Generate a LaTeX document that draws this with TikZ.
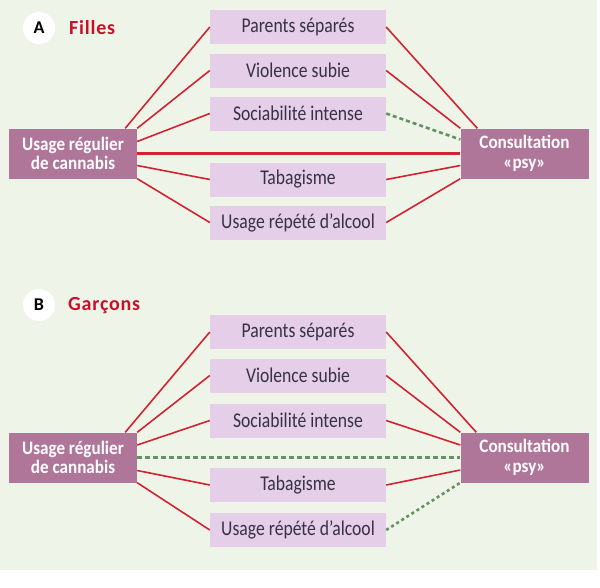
\documentclass[tikz,border=0pt]{standalone}
\usepackage{fontspec}
\setmainfont{Carlito}
\newfontfamily\boxfont{Carlito}[FakeStretch=0.84]
\newfontfamily\boldboxfont{Carlito}[FakeStretch=0.9]
\newfontfamily\titlefont{Carlito}[LetterSpace=4]
\usetikzlibrary{calc}
\definecolor{bg}{RGB}{238,245,232}
\definecolor{mauve}{RGB}{176,118,154}
\definecolor{lav}{RGB}{228,206,232}
\definecolor{redl}{RGB}{210,35,50}
\definecolor{greenl}{RGB}{100,145,100}
\definecolor{titlered}{RGB}{200,16,40}
\definecolor{txt}{RGB}{55,50,65}
\begin{document}
\begin{tikzpicture}[x=1pt,y=-1pt,
  midbox/.style={fill=lav, draw=none, minimum width=176pt, minimum height=34pt, inner sep=0pt, text=txt, font=\boxfont\fontsize{21}{21}\selectfont},
  endbox/.style={fill=mauve, draw=none, minimum width=128pt, minimum height=50pt, inner sep=0pt, text=white, align=center, font=\boldboxfont\bfseries\fontsize{19}{19.5}\selectfont},
  redline/.style={draw=redl, line width=1.6pt},
  redthick/.style={draw=redl, line width=2.2pt},
  greendash/.style={draw=greenl, line width=2.6pt, dash pattern=on 4pt off 3pt},
  greenlong/.style={draw=greenl, line width=3pt, dash pattern=on 5pt off 3pt},
  greendot/.style={draw=greenl, line width=2.6pt, dash pattern=on 3pt off 3pt},
  badge/.style={circle, fill=white, minimum size=32pt, inner sep=0pt, font=\bfseries\fontsize{18}{18}\selectfont, text=black},
  paneltitle/.style={anchor=base west, inner sep=0pt, text=titlered, font=\titlefont\bfseries\fontsize{20}{20}\selectfont}
]
\useasboundingbox (0,0) rectangle (600,587);
\fill[white] (0,0) rectangle (600,587);
\fill[bg] (0,0) rectangle (597,570);

% ---------- Panel A ----------
\node[badge] (ba) at (39,28) {A};
\node[paneltitle] (ta) at (69,34) {Filles};

\node[endbox] (aL) at (73,153.5) {Usage régulier\\de cannabis};
\node[endbox] (aR) at (524.5,153.5) {Consultation\\«psy»};
\node[midbox] (aP) at (298,27) {Parents séparés};
\node[midbox] (aV) at (298,70.5) {Violence subie};
\node[midbox] (aS) at (298,113.5) {Sociabilité intense};
\node[midbox] (aT) at (298,179.5) {Tabagisme};
\node[midbox] (aA) at (298,222.5) {Usage répété d’alcool};

\draw[redline] ($(aL.north east)+(-12,0)$) -- (aP.west);
\draw[redline] (aL.north east) -- (aV.west);
\draw[redline] ($(aL.east)+(0,-12)$) -- (aS.west);
\draw[redthick] (aL.east) -- (aR.west);
\draw[redline] ($(aL.east)+(0,12)$) -- (aT.west);
\draw[redline] (aL.south east) -- (aA.west);

\draw[redline] (aP.east) -- ($(aR.north west)+(17,0)$);
\draw[redline] (aV.east) -- (aR.north west);
\draw[greendash] (aS.east) -- ($(aR.west)+(0,-14)$);
\draw[redline] (aT.east) -- ($(aR.west)+(0,12)$);
\draw[redline] (aA.east) -- (aR.south west);

% ---------- Panel B ----------
\node[badge] (bb) at (39,305) {B};
\node[paneltitle] (tb) at (68,310) {Garçons};

\node[endbox] (bL) at (73,457.5) {Usage régulier\\de cannabis};
\node[endbox] (bR) at (524.5,457.5) {Consultation\\«psy»};
\node[midbox] (bP) at (298,332) {Parents séparés};
\node[midbox] (bV) at (298,375.5) {Violence subie};
\node[midbox] (bS) at (298,420.5) {Sociabilité intense};
\node[midbox] (bT) at (298,485) {Tabagisme};
\node[midbox] (bA) at (298,530) {Usage répété d’alcool};

\draw[redline] ($(bL.north east)+(-12,0)$) -- (bP.west);
\draw[redline] (bL.north east) -- (bV.west);
\draw[redline] ($(bL.east)+(0,-12.5)$) -- (bS.west);
\draw[greenlong] (bL.east) -- (bR.west);
\draw[redline] ($(bL.east)+(0,13)$) -- (bT.west);
\draw[redline] (bL.south east) -- (bA.west);

\draw[redline] (bP.east) -- ($(bR.north west)+(16,0)$);
\draw[redline] (bV.east) -- (bR.north west);
\draw[redline] (bS.east) -- ($(bR.west)+(0,-12.5)$);
\draw[redline] (bT.east) -- ($(bR.west)+(0,12.5)$);
\draw[greendot] (bA.east) -- (bR.south west);
\end{tikzpicture}
\end{document}
